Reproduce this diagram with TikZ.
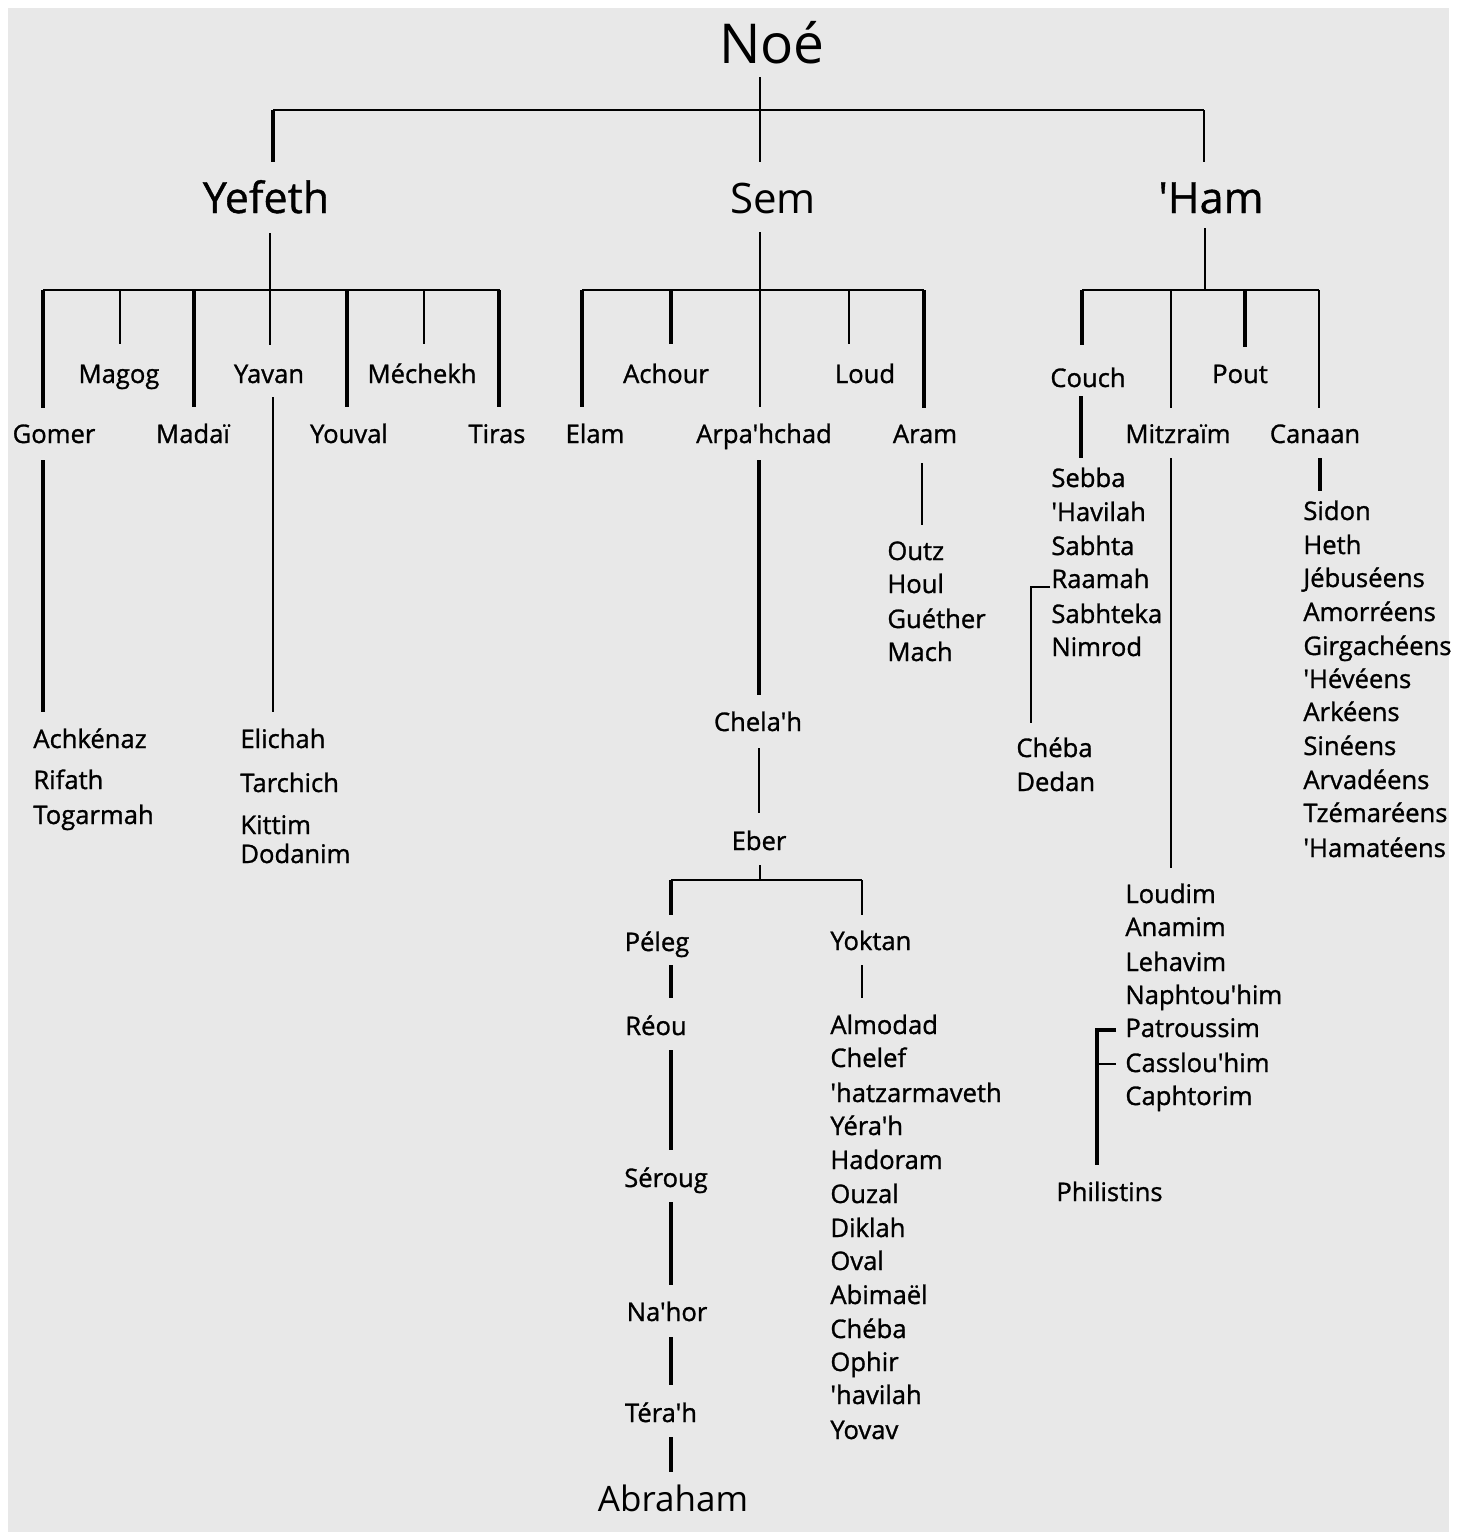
\documentclass[tikz,border=0pt]{standalone}
\usepackage{fontspec}
\setmainfont{Open Sans}
\newfontfamily\namefont[FakeBold=1.1]{Open Sans}
\newfontfamily\yfont[FakeBold=0.9]{Open Sans}
\newfontfamily\bigfont{Open Sans}
\begin{document}
\begin{tikzpicture}[x=0.5pt,y=-0.5pt,
  tk/.style={line width=1.6pt},
  tn/.style={line width=1.0pt},
  lbl/.style={anchor=base, inner sep=0pt, font=\namefont\fontsize{12.8}{15}\selectfont},
  li/.style={anchor=base west, inner sep=0pt, font=\namefont\fontsize{12.8}{15}\selectfont},
  big/.style={anchor=base, inner sep=0pt, font=\yfont\fontsize{21.5}{25}\selectfont},
  bigl/.style={anchor=base, inner sep=0pt, font=\bigfont\fontsize{21}{25}\selectfont},
  mid/.style={anchor=base, inner sep=0pt, font=\bigfont\fontsize{17.5}{21}\selectfont},
  huge/.style={anchor=base, inner sep=0pt, font=\bigfont\fontsize{27.5}{31}\selectfont}]
\useasboundingbox (0,0) rectangle (1463,1532);
\fill[white] (0,0) rectangle (1463,1532);
\fill[black!9] (8,8) rectangle (1449,1532);

% top levels
\node[huge] (noe) at (772,63) {Noé};
\node[big] (yefeth) at (266,213) {Yefeth};
\node[bigl] (sem) at (773,213) {Sem};
\node[big] (ham) at (1211,213) {'Ham};

\draw[tn] (760,77) -- (760,162);
\draw[tn] (273,110) -- (1204,110);
\draw[tk] (273,110) -- (273,162);
\draw[tn] (1204,110) -- (1204,162);

% Yefeth
\draw[tn] (270,233) -- (270,345);
\draw[tn] (43,290) -- (500,290);
\draw[tk] (43,290) -- (43,408);
\draw[tn] (120,290) -- (120,344);
\draw[tk] (194,290) -- (194,407);
\draw[tk] (347,290) -- (347,407);
\draw[tn] (424,290) -- (424,344);
\draw[tk] (499,290) -- (499,407);

\node[lbl] (magog) at (119,383) {Magog};
\node[lbl] (yavan) at (269,383) {Yavan};
\node[lbl] (mechekh) at (422,383) {Méchekh};
\node[lbl] (gomer) at (54,443) {Gomer};
\node[lbl] (madai) at (193,443) {Madaï};
\node[lbl] (youval) at (349,443) {Youval};
\node[lbl] (tiras) at (497,443) {Tiras};

\draw[tk] (43,460) -- (43,712);
\draw[tn] (273,397) -- (273,712);

\node[li] (achkenaz) at (33,748) {Achkénaz};
\node[li] (rifath) at (33,789) {Rifath};
\node[li] (togarmah) at (33,824) {Togarmah};
\node[li] (elichah) at (240,748) {Elichah};
\node[li] (tarchich) at (240,792) {Tarchich};
\node[li] (kittim) at (240,834) {Kittim};
\node[li] (dodanim) at (240,863) {Dodanim};

% Sem
\draw[tn] (760,232) -- (760,407);
\draw[tn] (582,290) -- (924,290);
\draw[tk] (582,290) -- (582,407);
\draw[tk] (671,290) -- (671,344);
\draw[tn] (849,290) -- (849,344);
\draw[tk] (924,290) -- (924,408);

\node[lbl] (achour) at (666,383) {Achour};
\node[lbl] (loud) at (865,383) {Loud};
\node[lbl] (elam) at (595,443) {Elam};
\node[lbl] (arpa) at (764,443) {Arpa'hchad};
\node[lbl] (aram) at (925,443) {Aram};

\draw[tn] (922,463) -- (922,525);
\node[li] (outz) at (887,560) {Outz};
\node[li] (houl) at (887,593) {Houl};
\node[li] (guether) at (887,628) {Guéther};
\node[li] (mach) at (887,661) {Mach};

\draw[tk] (759,460) -- (759,695);
\node[lbl] (chelah) at (758,731) {Chela'h};
\draw[tn] (759,748) -- (759,813);
\node[lbl] (eber) at (759,850) {Eber};
\draw[tn] (760,865) -- (760,880);
\draw[tn] (671,880) -- (862,880);
\draw[tk] (671,880) -- (671,915);
\draw[tn] (862,880) -- (862,915);

\node[lbl] (peleg) at (657,951) {Péleg};
\node[li] (yoktan) at (830,950) {Yoktan};
\draw[tk] (671,965) -- (671,998);
\node[lbl] (reou) at (656,1035) {Réou};
\draw[tk] (671,1050) -- (671,1150);
\node[lbl] (seroug) at (666,1187) {Séroug};
\draw[tk] (671,1202) -- (671,1285);
\node[lbl] (nahor) at (667,1321) {Na'hor};
\draw[tk] (671,1337) -- (671,1385);
\node[lbl] (terah) at (661,1422) {Téra'h};
\draw[tk] (671,1437) -- (671,1472);
\node[mid] (abraham) at (673,1511) {Abraham};

\draw[tn] (862,965) -- (862,998);
\node[li] (almodad) at (830,1034) {Almodad};
\node[li] (chelef) at (830,1067) {Chelef};
\node[li] (hatzar) at (830,1102) {'hatzarmaveth};
\node[li] (yerah) at (830,1135) {Yéra'h};
\node[li] (hadoram) at (830,1169) {Hadoram};
\node[li] (ouzal) at (830,1203) {Ouzal};
\node[li] (diklah) at (830,1237) {Diklah};
\node[li] (oval) at (830,1270) {Oval};
\node[li] (abimael) at (830,1304) {Abimaël};
\node[li] (cheba2) at (830,1338) {Chéba};
\node[li] (ophir) at (830,1371) {Ophir};
\node[li] (havilah2) at (830,1404) {'havilah};
\node[li] (yovav) at (830,1439) {Yovav};

% Ham
\draw[tn] (1205,228) -- (1205,290);
\draw[tn] (1082,290) -- (1319,290);
\draw[tk] (1082,290) -- (1082,345);
\draw[tn] (1171,290) -- (1171,408);
\draw[tk] (1245,290) -- (1245,347);
\draw[tn] (1319,290) -- (1319,408);

\node[lbl] (couch) at (1088,387) {Couch};
\node[lbl] (pout) at (1240,383) {Pout};
\node[lbl] (mitz) at (1178,443) {Mitzraïm};
\node[lbl] (canaan) at (1315,443) {Canaan};

\draw[tk] (1081,396) -- (1081,458);
\node[li] (sebba) at (1051,487) {Sebba};
\node[li] (havilah) at (1051,521) {'Havilah};
\node[li] (sabhta) at (1051,555) {Sabhta};
\node[li] (raamah) at (1051,588) {Raamah};
\node[li] (sabhteka) at (1051,623) {Sabhteka};
\node[li] (nimrod) at (1051,656) {Nimrod};
\draw[tn] (1050,587) -- (1031,587) -- (1031,723);
\node[li] (cheba) at (1016,757) {Chéba};
\node[li] (dedan) at (1016,791) {Dedan};

\draw[tn] (1171,458) -- (1171,868);
\node[li] (loudim) at (1125,903) {Loudim};
\node[li] (anamim) at (1125,936) {Anamim};
\node[li] (lehavim) at (1125,971) {Lehavim};
\node[li] (naphtou) at (1125,1004) {Naphtou'him};
\node[li] (patrou) at (1125,1037) {Patroussim};
\node[li] (casslou) at (1125,1072) {Casslou'him};
\node[li] (caphto) at (1125,1105) {Caphtorim};
\draw[tk] (1116,1030) -- (1097,1030) -- (1097,1165);
\draw[tn] (1097,1064) -- (1116,1064);
\node[li] (philistins) at (1056,1201) {Philistins};

\draw[tk] (1320,458) -- (1320,491);
\node[li] (sidon) at (1303,520) {Sidon};
\node[li] (heth) at (1303,554) {Heth};
\node[li] (jebus) at (1303,587) {Jébuséens};
\node[li] (amor) at (1303,621) {Amorréens};
\node[li] (girga) at (1303,655) {Girgachéens};
\node[li] (hevee) at (1303,688) {'Hévéens};
\node[li] (arkee) at (1303,721) {Arkéens};
\node[li] (sinee) at (1303,755) {Sinéens};
\node[li] (arvad) at (1303,789) {Arvadéens};
\node[li] (tzema) at (1303,822) {Tzémaréens};
\node[li] (hamat) at (1303,857) {'Hamatéens};
\end{tikzpicture}
\end{document}
